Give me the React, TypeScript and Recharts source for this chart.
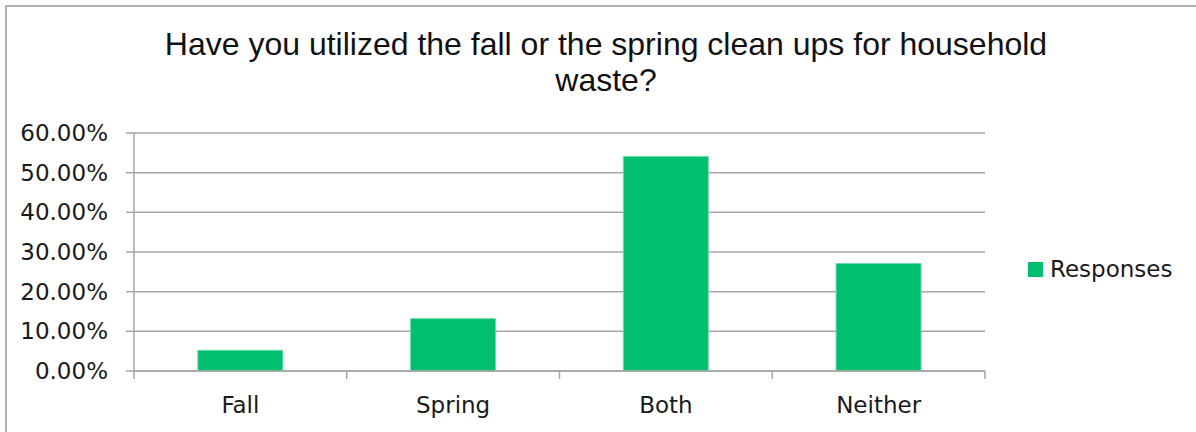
import React from 'react';
import { BarChart, Bar, XAxis, YAxis, CartesianGrid } from 'recharts';

const categories = ['Fall', 'Spring', 'Both', 'Neither'];
const responses = [0.0523, 0.132, 0.541, 0.271];
const yTicks = [0, 0.1, 0.2, 0.3, 0.4, 0.5, 0.6];
const seriesName = 'Responses';

const data = categories.map((name, i) => ({ name, value: responses[i] }));

const GREEN = '#00BF6F';
const AXIS = '#a6a6a6';
const FONT = '"DejaVu Sans", sans-serif';

// category label plus tick marks on the band edges (Excel style)
const CategoryTick = (props: any) => {
  const { x, y, payload, index, width, visibleTicksCount } = props;
  const band = width / (visibleTicksCount || categories.length);
  const left = x - band / 2;
  const right = x + band / 2;
  return (
    <g>
      <line x1={left} x2={left} y1={y} y2={y + 8} stroke={AXIS} strokeWidth={1.5} />
      {index === categories.length - 1 && (
        <line x1={right} x2={right} y1={y} y2={y + 8} stroke={AXIS} strokeWidth={1.5} />
      )}
      <text x={x} y={y + 42} textAnchor="middle" fill="#1a1a1a" fontSize={23} fontFamily={FONT}>
        {payload.value}
      </text>
    </g>
  );
};

export default function App() {
  return (
    <div style={{ position: 'absolute', left: 0, top: 0, width: 1196, height: 432, overflow: 'hidden', background: '#fff' }}>
      <div
        style={{
          position: 'absolute', left: 5, top: 5, width: 1300, height: 500,
          borderTop: '2px solid #b0b0b0', borderLeft: '2px solid #b0b0b0',
        }}
      />
      <div
        style={{
          position: 'absolute', left: 0, top: 26, width: 1212, textAlign: 'center',
          fontFamily: '"Liberation Sans", Arial, sans-serif', fontSize: 32, lineHeight: '36px', color: '#111',
        }}
      >
        Have you utilized the fall or the spring clean ups for household
        <br />
        waste?
      </div>
      <div style={{ position: 'absolute', left: 0, top: 0 }}>
        <BarChart
          width={1196}
          height={432}
          data={data}
          margin={{ top: 133, right: 211, bottom: 0, left: 0 }}
          barCategoryGap="30%"
        >
          <CartesianGrid vertical={false} stroke={AXIS} strokeWidth={1.5} />
          <XAxis
            dataKey="name"
            height={61}
            axisLine={{ stroke: AXIS, strokeWidth: 1.5 }}
            tickLine={false}
            tickSize={0}
            tickMargin={0}
            interval={0}
            tick={<CategoryTick />}
          />
          <YAxis
            width={134}
            domain={[0, 0.6]}
            ticks={yTicks}
            interval={0}
            tickFormatter={(v: number) => `${(v * 100).toFixed(2)}%`}
            axisLine={{ stroke: AXIS, strokeWidth: 1.5 }}
            tickLine={{ stroke: AXIS, strokeWidth: 1.5 }}
            tickSize={8}
            tickMargin={18}
            tick={{ fill: '#1a1a1a', fontSize: 23, fontFamily: FONT }}
          />
          <Bar dataKey="value" name={seriesName} fill={GREEN} stroke="#6fdcaa" strokeWidth={1} isAnimationActive={false} />
        </BarChart>
      </div>
      <div
        style={{
          position: 'absolute', left: 1028, top: 256, display: 'flex', alignItems: 'center',
          fontFamily: FONT, fontSize: 23, color: '#1a1a1a',
        }}
      >
        <span style={{ width: 15, height: 15, background: GREEN, display: 'inline-block', marginRight: 7 }} />
        <span>{seriesName}</span>
      </div>
    </div>
  );
}
